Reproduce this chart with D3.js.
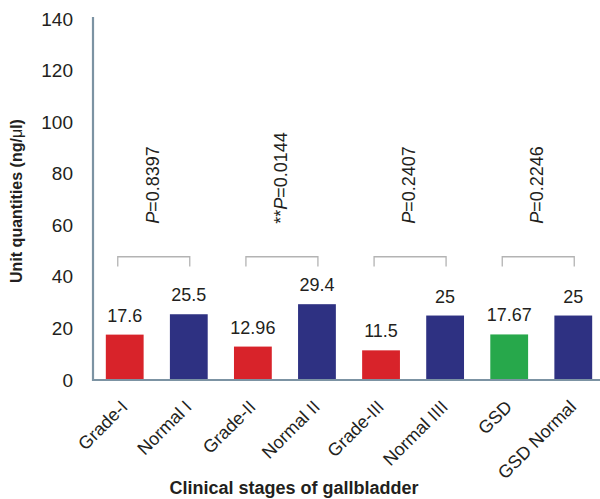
<!DOCTYPE html>
<html>
<head>
<meta charset="utf-8">
<script src="https://cdn.jsdelivr.net/npm/d3@7"></script>
<style>
  body { margin: 0; background: #fff; }
  svg { display: block; font-family: Arial, "Liberation Sans", sans-serif; }
</style>
</head>
<body>
<svg id="chart" width="600" height="499"></svg>
<script>
// Unit quantities per clinical stage
const categories = ["Grade-I", "Normal I", "Grade-II", "Normal II", "Grade-III", "Normal IIII", "GSD", "GSD Normal"];
const values = [17.6, 25.5, 12.96, 29.4, 11.5, 25, 17.67, 25];
const valueLabels = ["17.6", "25.5", "12.96", "29.4", "11.5", "25", "17.67", "25"];
const barGroups = ["case", "normal", "case", "normal", "case", "normal", "gsd", "normal"];
const yTicks = [0, 20, 40, 60, 80, 100, 120, 140];
// Paired comparisons and their P values
const pairs = [["Grade-I", "Normal I"], ["Grade-II", "Normal II"], ["Grade-III", "Normal IIII"], ["GSD", "GSD Normal"]];
const pPrefix = ["", "**", "", ""];
const pValues = ["0.8397", "0.0144", "0.2407", "0.2246"];

const colors = { case: "#d8232a", normal: "#2e3182", gsd: "#27a84b" };
const textColor = "#231f20";
const fontFamily = "Arial, 'Liberation Sans', sans-serif";
const svg = d3.select("#chart");

const x = d3.scaleBand().domain(categories).range([93, 605]).paddingInner(0.41).paddingOuter(0.2);
const y = d3.scaleLinear().domain([0, 140]).range([380, 19]);

// Y axis labels (no tick marks)
const yAxis = svg.append("g").attr("transform", "translate(93,0)")
  .call(d3.axisLeft(y).tickValues(yTicks).tickSize(0).tickPadding(20));
yAxis.select(".domain").remove();
yAxis.attr("font-size", 19).attr("font-family", fontFamily);
yAxis.selectAll("text").attr("fill", textColor);

// Bars
svg.append("g").selectAll("rect").data(categories).join("rect")
  .attr("x", d => x(d))
  .attr("width", x.bandwidth())
  .attr("y", (d, i) => y(values[i]))
  .attr("height", (d, i) => y(0) - y(values[i]))
  .attr("fill", (d, i) => colors[barGroups[i]]);

// Value labels above bars
svg.append("g").selectAll("text").data(categories).join("text")
  .attr("x", d => x(d) + x.bandwidth() / 2)
  .attr("y", (d, i) => y(values[i]) - 13)
  .attr("text-anchor", "middle")
  .attr("font-size", 18)
  .attr("fill", textColor)
  .text((d, i) => valueLabels[i]);

// Axis lines
const axisColor = "#7c93a3";
svg.append("line").attr("x1", 93).attr("x2", 93).attr("y1", 17).attr("y2", y(0) + 1)
  .attr("stroke", axisColor).attr("stroke-width", 2.2);
svg.append("line").attr("x1", 92).attr("x2", 605).attr("y1", y(0)).attr("y2", y(0))
  .attr("stroke", axisColor).attr("stroke-width", 2.2);

// X axis labels, rotated
const xAxis = svg.append("g").attr("transform", `translate(0,${y(0)})`)
  .call(d3.axisBottom(x).tickSize(0).tickPadding(0));
xAxis.select(".domain").remove();
xAxis.attr("font-size", 18).attr("font-family", fontFamily);
xAxis.selectAll("text")
  .attr("fill", textColor)
  .attr("text-anchor", "end")
  .attr("dy", 0)
  .attr("transform", "translate(4,28) rotate(-45)");

// Comparison brackets with P values
const bracketTop = y(47.8), bracketFoot = y(44);
pairs.forEach((p, i) => {
  const mid = (x(p[0]) + x(p[1]) + x.bandwidth()) / 2 - 3;
  const half = 36;
  svg.append("path")
    .attr("d", `M${mid - half},${bracketFoot}V${bracketTop}H${mid + half}V${bracketFoot}`)
    .attr("fill", "none").attr("stroke", "#b3b3b3").attr("stroke-width", 1.3);
  const t = svg.append("text")
    .attr("transform", `translate(${mid + 5},${y(60.6)}) rotate(-90)`)
    .attr("font-size", 18).attr("fill", textColor);
  if (pPrefix[i]) t.append("tspan").text(pPrefix[i]);
  t.append("tspan").attr("font-style", "italic").text("P");
  t.append("tspan").text("=" + pValues[i]);
});

// Axis titles
const yTitle = svg.append("text")
  .attr("transform", "translate(22,201) rotate(-90)")
  .attr("text-anchor", "middle")
  .attr("font-size", 16).attr("font-weight", "bold").attr("fill", textColor);
yTitle.append("tspan").text("Unit quantities (ng/");
yTitle.append("tspan").attr("font-weight", "normal").text("μ");
yTitle.append("tspan").text("l)");

svg.append("text")
  .attr("x", 294).attr("y", 494)
  .attr("text-anchor", "middle")
  .attr("font-size", 18).attr("font-weight", "bold").attr("fill", textColor)
  .text("Clinical stages of gallbladder");
</script>
</body>
</html>
